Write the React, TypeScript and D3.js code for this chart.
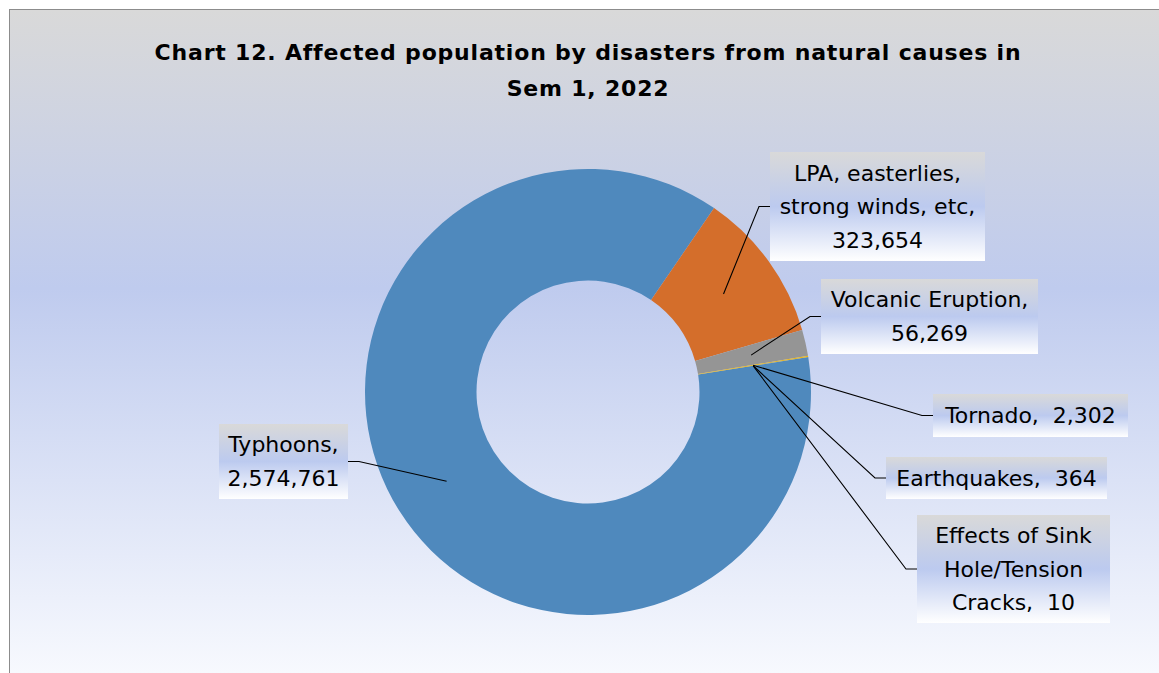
import React from 'react';
import * as d3 from 'd3';

const categories = ['Typhoons', 'LPA, easterlies, strong winds, etc', 'Volcanic Eruption', 'Tornado', 'Earthquakes', 'Effects of Sink Hole/Tension Cracks'];
const values = [2574761, 323654, 56269, 2302, 364, 10];
const colors = ['#4f89bd', '#d46e2b', '#959595', '#e8b61c', '#5a8fc4', '#6fa346'];
// how each category name wraps in its label, and whether the value is on its own line
const nameLines = [
  ['Typhoons,'],
  ['LPA, easterlies,', 'strong winds, etc,'],
  ['Volcanic Eruption,'],
  ['Tornado,'],
  ['Earthquakes,'],
  ['Effects of Sink', 'Hole/Tension', 'Cracks,'],
];
const valueOwnLine = [true, true, true, false, false, false];
const titleLines = ['Chart 12. Affected population by disasters from natural causes in', 'Sem 1, 2022'];

// layout of label boxes (x, y, w, h) and which side the leader attaches
const boxes = [
  { x: 219, y: 424, w: 129, h: 75, side: 'right' },
  { x: 770, y: 152, w: 215, h: 109, side: 'left' },
  { x: 821, y: 279, w: 217, h: 75, side: 'left' },
  { x: 933, y: 394, w: 195, h: 43, side: 'left' },
  { x: 886, y: 457, w: 221, h: 42, side: 'left' },
  { x: 917, y: 515, w: 193, h: 108, side: 'left' },
];

const W = 1159;
const H = 673;
const cx = 588;
const cy = 392;
const outerR = 223;
const innerR = 111.5;
const startDeg = 81;
const FONT = "'Comic Sans MS', 'DejaVu Sans', sans-serif";

export default function App() {
  const fmt = d3.format(',');
  const pie = d3
    .pie<number>()
    .sort(null)
    .value((d) => d)
    .startAngle((startDeg * Math.PI) / 180)
    .endAngle((startDeg * Math.PI) / 180 + 2 * Math.PI);
  const arcs = pie(values);
  const arc = d3.arc<d3.PieArcDatum<number>>().innerRadius(innerR).outerRadius(outerR);
  const midArc = d3.arc<d3.PieArcDatum<number>>().innerRadius((innerR + outerR) / 2).outerRadius((innerR + outerR) / 2);

  const lineH = 33.5;
  const fs = 22;

  return (
    <svg width={W} height={H} style={{ position: 'absolute', left: 0, top: 0 }}>
      <defs>
        <linearGradient id="bg" gradientUnits="userSpaceOnUse" x1="0" y1="10" x2="0" y2="673">
          <stop offset="0" stopColor="#d9d9d9" />
          <stop offset="0.42" stopColor="#bfcbee" />
          <stop offset="1" stopColor="#f7f9fe" />
        </linearGradient>
        <linearGradient id="box" x1="0" y1="0" x2="0" y2="1">
          <stop offset="0" stopColor="#d9d9d9" />
          <stop offset="0.5" stopColor="#bccaef" />
          <stop offset="1" stopColor="#ffffff" />
        </linearGradient>
      </defs>
      <rect x={0} y={0} width={W} height={H} fill="#ffffff" />
      <rect x={9.5} y={9.5} width={W + 20} height={H + 20} fill="url(#bg)" stroke="#8c8c8c" strokeWidth={1} />
      {titleLines.map((t, i) => (
        <text
          key={i}
          x={cx}
          y={52 + i * 36}
          textAnchor="middle"
          dominantBaseline="central"
          fontFamily={FONT}
          fontWeight="bold"
          fontSize={22}
          letterSpacing={0.8}
          fill="#000"
        >
          {t}
        </text>
      ))}
      <g transform={`translate(${cx},${cy})`}>
        {arcs.map((a, i) => (
          <path key={categories[i]} d={arc(a) || ''} fill={colors[i]} />
        ))}
      </g>
      {arcs.map((a, i) => {
        const [mx, my] = midArc.centroid(a);
        const b = boxes[i];
        const ey = b.y + b.h / 2;
        const edgeX = b.side === 'left' ? b.x : b.x + b.w;
        const elbowX = b.side === 'left' ? edgeX - 11 : edgeX + 11;
        return (
          <polyline
            key={'l' + i}
            points={`${cx + mx},${cy + my} ${elbowX},${ey} ${edgeX},${ey}`}
            fill="none"
            stroke="#000"
            strokeWidth={1.1}
          />
        );
      })}
      {boxes.map((b, i) => {
        const lines = valueOwnLine[i]
          ? [...nameLines[i], fmt(values[i])]
          : [...nameLines[i].slice(0, -1), nameLines[i][nameLines[i].length - 1] + '  ' + fmt(values[i])];
        const midY = b.y + b.h / 2;
        const y0 = midY - ((lines.length - 1) * lineH) / 2;
        return (
          <g key={'b' + i}>
            <rect x={b.x} y={b.y} width={b.w} height={b.h} fill="url(#box)" />
            {lines.map((t, j) => (
              <text
                key={j}
                x={b.x + b.w / 2}
                y={y0 + j * lineH}
                textAnchor="middle"
                dominantBaseline="central"
                fontFamily={FONT}
                fontSize={fs}
                fill="#000"
                style={{ whiteSpace: 'pre' }}
              >
                {t}
              </text>
            ))}
          </g>
        );
      })}
    </svg>
  );
}
